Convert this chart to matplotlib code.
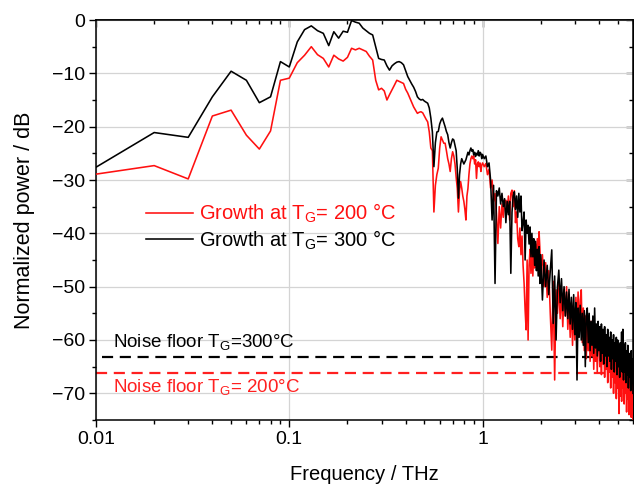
import numpy as np
import matplotlib
matplotlib.use("Agg")
import matplotlib.pyplot as plt
from matplotlib.ticker import MultipleLocator, LogLocator, NullFormatter

plt.rcParams['font.family'] = ['Liberation Sans', 'DejaVu Sans']
plt.rcParams['mathtext.fontset'] = 'custom'
plt.rcParams['mathtext.rm'] = 'Liberation Sans'
plt.rcParams['mathtext.it'] = 'Liberation Sans'

# frequency grids (THz): instrument resolution 0.01 below 1 THz, coarser read-off above
freq_low = np.round(np.arange(0.01, 1.005, 0.01), 2)
freq_mid = np.round(np.arange(1.02, 2.001, 0.02), 2)
freq_high = np.round(np.arange(2.04, 6.001, 0.04), 2)
freq = np.concatenate([freq_low, freq_mid, freq_high])

# growth at 300 C (black), dB
p300_low = [
    -27.6, -21.1, -22.0, -14.4, -9.6, -11.3, -15.5, -14.4, -7.8, -8.8,
    -4.1, -1.8, -1.1, -2.0, -2.5, -4.8, -2.2, -3.4, -2.1, -2.3,
    -0.1, -0.4, -0.6, -1.5, -2.0, -2.5, -2.8, -5.0, -7.2, -7.4,
    -7.5, -8.6, -9.4, -8.6, -8.2, -7.9, -7.8, -8.0, -8.4, -9.5,
    -10.6, -11.3, -12.0, -12.6, -13.4, -14.4, -14.8, -15.0, -14.9, -15.2,
    -15.4, -15.6, -16.5, -18.4, -21.0, -27.5, -23.0, -21.0, -20.9, -19.5,
    -18.8, -18.4, -19.2, -20.0, -20.9, -21.5, -23.0, -24.0, -23.0, -22.3,
    -22.5, -23.5, -24.5, -28.0, -33.4, -29.0, -27.0, -26.0, -26.5, -27.0,
    -26.6, -26.2, -25.5, -24.8, -25.3, -24.5, -24.0, -24.6, -24.3, -25.3,
    -24.8, -25.6, -25.0, -25.3, -24.5, -25.5, -24.8, -25.0, -26.0, -25.2,
]
p300_mid = [
    -26.0, -25.5, -27.5, -26.8, -30.0, -37.5, -31.0, -49.4, -32.0, -33.0,
    -31.5, -34.5, -32.5, -35.0, -33.5, -38.0, -34.0, -36.5, -34.0, -47.5,
    -36.0, -33.0, -32.2, -35.5, -33.0, -37.0, -32.5, -36.0, -33.0, -39.5,
    -38.0, -36.0, -45.0, -37.5, -40.0, -38.5, -42.0, -38.8, -44.4, -40.0,
    -44.4, -41.0, -46.0, -41.5, -47.0, -43.0, -48.0, -42.5, -49.4, -44.0,
]
p300_high = [
    -52.5, -45.0, -50.0, -46.0, -51.5, -47.0, -43.1, -56.9, -48.0, -60.0,
    -50.0, -46.9, -53.0, -48.5, -54.5, -50.0, -55.5, -51.0, -56.0, -50.5,
    -57.0, -52.0, -58.0, -51.5, -59.0, -53.0, -67.5, -54.0, -59.5, -53.5,
    -60.0, -55.0, -61.0, -54.5, -65.0, -55.5, -54.0, -60.5, -55.0, -62.0,
    -56.5, -61.0, -55.5, -62.5, -54.0, -61.5, -57.0, -63.0, -56.5, -62.0,
    -57.5, -64.0, -57.0, -62.5, -58.0, -64.5, -57.5, -63.0, -59.0, -65.0,
    -58.0, -63.0, -59.5, -64.0, -58.5, -65.5, -60.0, -63.5, -59.0, -66.0,
    -60.5, -64.0, -59.5, -66.5, -60.0, -65.0, -61.0, -67.0, -60.5, -65.5,
    -58.5, -66.0, -58.0, -67.5, -61.0, -66.0, -60.5, -68.0, -62.0, -66.5,
    -61.0, -69.0, -62.5, -67.0, -63.0, -69.5, -62.0, -68.0, -63.5, -70.0,
]

# growth at 200 C (red), dB
p200_low = [
    -28.9, -27.3, -29.8, -18.0, -16.9, -21.6, -24.2, -20.8, -11.3, -10.9,
    -8.0, -6.6, -5.0, -6.5, -7.2, -8.8, -6.6, -7.3, -7.7, -7.0,
    -5.3, -5.6, -5.3, -5.6, -5.9, -6.8, -7.5, -11.3, -13.1, -12.8,
    -13.3, -15.0, -14.0, -13.1, -12.2, -11.3, -11.5, -11.7, -11.9, -13.0,
    -13.7, -14.6, -15.5, -16.3, -16.9, -17.5, -17.3, -17.2, -17.4, -18.0,
    -18.6, -19.1, -21.0, -24.0, -24.5, -36.0, -31.0, -29.0, -27.8, -24.0,
    -21.9, -22.5, -23.1, -23.1, -24.5, -26.0, -27.0, -28.4, -26.0, -24.7,
    -25.5, -27.0, -29.5, -31.6, -36.0, -32.0, -30.3, -31.5, -33.0, -34.0,
    -35.5, -37.5, -33.0, -31.6, -29.0, -27.0, -26.0, -25.5, -26.0, -25.5,
    -27.0, -26.2, -29.7, -27.0, -26.6, -27.5, -26.8, -28.4, -27.2, -26.8,
]
p200_mid = [
    -27.5, -26.9, -29.0, -28.0, -31.5, -30.0, -34.0, -32.5, -36.3, -41.9,
    -35.0, -39.0, -34.5, -37.0, -34.0, -33.8, -36.0, -33.0, -37.5, -32.5,
    -31.9, -35.0, -32.0, -38.0, -36.0, -41.0, -42.5, -39.0, -44.0, -40.5,
    -46.0, -49.4, -54.4, -58.1, -45.0, -60.0, -46.0, -43.0, -47.5, -42.0,
    -48.0, -43.5, -46.5, -42.0, -45.0, -41.0, -44.5, -39.7, -43.0, -47.0,
]
p200_high = [
    -44.0, -50.0, -45.5, -52.0, -47.0, -55.0, -61.9, -49.0, -67.5, -50.6,
    -55.0, -49.5, -56.0, -51.0, -57.5, -50.5, -55.5, -50.0, -58.0, -52.5,
    -59.5, -53.0, -61.0, -54.0, -60.0, -52.0, -58.5, -51.0, -59.0, -52.5,
    -50.6, -60.5, -54.0, -62.0, -55.5, -63.5, -56.0, -62.0, -57.5, -64.0,
    -56.5, -63.0, -58.0, -65.5, -57.0, -64.0, -58.5, -66.0, -59.0, -58.7,
    -65.0, -59.5, -66.5, -60.0, -64.5, -61.0, -67.0, -60.5, -65.5, -62.0,
    -68.0, -61.5, -66.0, -62.5, -69.0, -62.0, -67.0, -63.0, -70.0, -63.5,
    -68.0, -62.5, -71.0, -64.0, -69.0, -65.0, -73.8, -64.5, -70.5, -63.0,
    -71.5, -65.0, -69.0, -64.0, -72.0, -66.0, -70.0, -65.5, -73.5, -66.5,
    -71.0, -67.0, -74.0, -66.0, -72.0, -68.8, -74.5, -67.0, -73.0, -75.0,
]

p300 = np.array(p300_low + p300_mid + p300_high)
p200 = np.array(p200_low + p200_mid + p200_high)

noise_300 = -63.1
noise_200 = -66.1

x_ticks = [0.01, 0.1, 1]
x_ticklabels = ['0.01', '0.1', '1']

fig = plt.figure(figsize=(6.34, 4.87), dpi=100)
ax = fig.add_axes([0.1514, 0.1376, 0.847, 0.8213])

ax.axhline(noise_300, xmin=0.012, color='black', lw=1.6, dashes=(5, 3), zorder=2)
ax.axhline(noise_200, color='#ff2020', lw=1.6, dashes=(5, 3), zorder=2)

ax.plot(freq, p200, color='#ff1010', lw=1.15, zorder=3, label='Growth at T$_\\mathrm{G}$= 200 °C')
ax.plot(freq, p300, color='black', lw=1.15, zorder=4, label='Growth at T$_\\mathrm{G}$= 300 °C')

ax.set_xscale('log')
ax.set_xlim(0.01, 6.0)
ax.set_ylim(-75, 0)
ax.yaxis.set_major_locator(MultipleLocator(10))
ax.yaxis.set_minor_locator(MultipleLocator(5))
ax.xaxis.set_minor_locator(LogLocator(base=10, subs=np.arange(2, 10)))
ax.xaxis.set_minor_formatter(NullFormatter())
ax.set_xticks(x_ticks)
ax.set_xticklabels(x_ticklabels)

ax.grid(True, which='major', color='#d4d4d4', lw=0.9, zorder=0)
ax.set_axisbelow(True)

for s in ax.spines.values():
    s.set_linewidth(1.1)

ax.tick_params(which='both', direction='out', labelsize=14, width=1.0, pad=3)
ax.tick_params(which='major', length=5)
ax.tick_params(which='minor', length=3)

# top and right axes: ticks pointing inwards, no labels
top = ax.secondary_xaxis('top')
top.set_xticks(x_ticks)
top.xaxis.set_minor_locator(LogLocator(base=10, subs=np.arange(2, 10)))
top.xaxis.set_minor_formatter(NullFormatter())
top.tick_params(which='both', direction='in', labeltop=False, width=1.0)
top.tick_params(which='major', length=5)
top.tick_params(which='minor', length=3)
top.spines['top'].set_linewidth(1.1)

right = ax.secondary_yaxis('right')
right.yaxis.set_major_locator(MultipleLocator(10))
right.yaxis.set_minor_locator(MultipleLocator(5))
right.tick_params(which='both', direction='in', labelright=False, width=1.0)
right.tick_params(which='major', length=5)
right.tick_params(which='minor', length=3)

ax.set_xlabel('Frequency / THz', fontsize=14.5, labelpad=12)
ax.set_ylabel('Normalized power / dB', fontsize=15.5, labelpad=12)

leg = ax.legend(loc='upper left', bbox_to_anchor=(0.06, 0.59), frameon=False,
                fontsize=14.5, handlelength=2.3, handletextpad=0.3,
                labelspacing=0.15, labelcolor='linecolor')

ax.text(0.0122, -60.4, 'Noise floor T$_\\mathrm{G}$=300°C', fontsize=13.5,
        color='black', va='center', ha='left')
ax.text(0.0122, -68.8, 'Noise floor T$_\\mathrm{G}$= 200°C', fontsize=13.5,
        color='#ff2020', va='center', ha='left')

fig.savefig('out.png', dpi=100)
